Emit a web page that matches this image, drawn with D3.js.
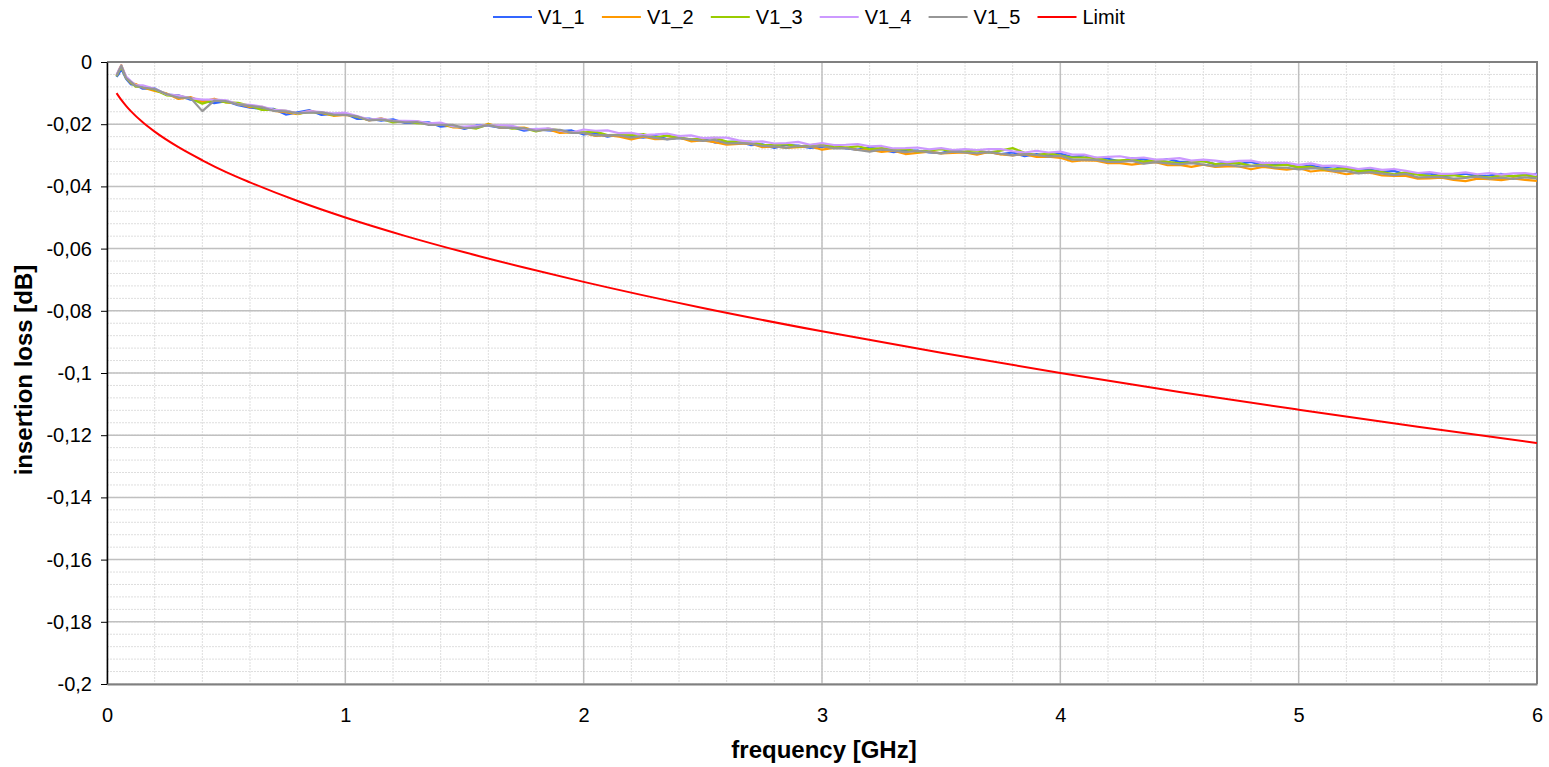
<!DOCTYPE html>
<html>
<head>
<meta charset="utf-8">
<script src="https://cdn.jsdelivr.net/npm/d3@7"></script>
<style>
  body { margin: 0; background: #fff; }
  svg { display: block; font-family: "Liberation Sans", Arial, sans-serif; }
</style>
</head>
<body>
<svg id="chart"></svg>
<script>
// sweep frequencies [GHz]
const freq = [0.04, 0.05, 0.06, 0.07, 0.08, 0.1, 0.12, 0.15, 0.2, 0.25,
  0.3, 0.35, 0.4, 0.45, 0.5, 0.55, 0.6, 0.65, 0.7, 0.75,
  0.8, 0.85, 0.9, 0.95, 1.0, 1.05, 1.1, 1.15, 1.2, 1.25,
  1.3, 1.35, 1.4, 1.45, 1.5, 1.55, 1.6, 1.65, 1.7, 1.75,
  1.8, 1.85, 1.9, 1.95, 2.0, 2.05, 2.1, 2.15, 2.2, 2.25,
  2.3, 2.35, 2.4, 2.45, 2.5, 2.55, 2.6, 2.65, 2.7, 2.75,
  2.8, 2.85, 2.9, 2.95, 3.0, 3.05, 3.1, 3.15, 3.2, 3.25,
  3.3, 3.35, 3.4, 3.45, 3.5, 3.55, 3.6, 3.65, 3.7, 3.75,
  3.8, 3.85, 3.9, 3.95, 4.0, 4.05, 4.1, 4.15, 4.2, 4.25,
  4.3, 4.35, 4.4, 4.45, 4.5, 4.55, 4.6, 4.65, 4.7, 4.75,
  4.8, 4.85, 4.9, 4.95, 5.0, 5.05, 5.1, 5.15, 5.2, 5.25,
  5.3, 5.35, 5.4, 5.45, 5.5, 5.55, 5.6, 5.65, 5.7, 5.75,
  5.8, 5.85, 5.9, 5.95, 6.0];

// insertion loss [dB] per sample
const v1_1 = [-0.0048, -0.0038, -0.0022, -0.0038, -0.0054, -0.0072, -0.0073, -0.0086, -0.0085, -0.0105,
  -0.0107, -0.0121, -0.0124, -0.0132, -0.0126, -0.0139, -0.0147, -0.0150, -0.0151, -0.0169,
  -0.0162, -0.0155, -0.0170, -0.0167, -0.0166, -0.0183, -0.0182, -0.0189, -0.0184, -0.0196,
  -0.0195, -0.0194, -0.0208, -0.0204, -0.0215, -0.0204, -0.0205, -0.0211, -0.0210, -0.0221,
  -0.0215, -0.0220, -0.0222, -0.0220, -0.0233, -0.0229, -0.0240, -0.0233, -0.0240, -0.0243,
  -0.0237, -0.0248, -0.0244, -0.0250, -0.0247, -0.0259, -0.0257, -0.0256, -0.0267, -0.0265,
  -0.0276, -0.0267, -0.0269, -0.0276, -0.0273, -0.0269, -0.0278, -0.0282, -0.0275, -0.0282,
  -0.0290, -0.0285, -0.0285, -0.0291, -0.0293, -0.0283, -0.0290, -0.0295, -0.0290, -0.0296,
  -0.0291, -0.0303, -0.0296, -0.0301, -0.0294, -0.0306, -0.0300, -0.0311, -0.0311, -0.0319,
  -0.0310, -0.0313, -0.0320, -0.0312, -0.0321, -0.0321, -0.0318, -0.0329, -0.0322, -0.0328,
  -0.0321, -0.0333, -0.0330, -0.0330, -0.0339, -0.0332, -0.0340, -0.0335, -0.0343, -0.0350,
  -0.0346, -0.0353, -0.0350, -0.0362, -0.0359, -0.0358, -0.0368, -0.0363, -0.0359, -0.0367,
  -0.0365, -0.0360, -0.0368, -0.0363, -0.0360];

const v1_2 = [-0.0044, -0.0026, -0.0010, -0.0030, -0.0050, -0.0068, -0.0071, -0.0082, -0.0093, -0.0101,
  -0.0119, -0.0113, -0.0128, -0.0118, -0.0130, -0.0133, -0.0145, -0.0144, -0.0157, -0.0161,
  -0.0168, -0.0157, -0.0164, -0.0173, -0.0170, -0.0175, -0.0188, -0.0181, -0.0192, -0.0192,
  -0.0191, -0.0200, -0.0200, -0.0210, -0.0211, -0.0212, -0.0199, -0.0211, -0.0212, -0.0211,
  -0.0221, -0.0216, -0.0228, -0.0226, -0.0228, -0.0238, -0.0235, -0.0240, -0.0249, -0.0240,
  -0.0248, -0.0247, -0.0243, -0.0255, -0.0252, -0.0258, -0.0266, -0.0263, -0.0262, -0.0274,
  -0.0271, -0.0276, -0.0274, -0.0271, -0.0282, -0.0276, -0.0275, -0.0283, -0.0282, -0.0289,
  -0.0285, -0.0296, -0.0292, -0.0288, -0.0294, -0.0292, -0.0291, -0.0298, -0.0289, -0.0297,
  -0.0300, -0.0296, -0.0305, -0.0304, -0.0308, -0.0320, -0.0316, -0.0317, -0.0325, -0.0325,
  -0.0330, -0.0325, -0.0322, -0.0332, -0.0331, -0.0337, -0.0330, -0.0337, -0.0336, -0.0336,
  -0.0345, -0.0337, -0.0342, -0.0346, -0.0341, -0.0352, -0.0348, -0.0353, -0.0361, -0.0356,
  -0.0356, -0.0365, -0.0366, -0.0366, -0.0375, -0.0374, -0.0372, -0.0379, -0.0383, -0.0375,
  -0.0377, -0.0380, -0.0374, -0.0379, -0.0382];

const v1_3 = [-0.0046, -0.0030, -0.0016, -0.0034, -0.0052, -0.0066, -0.0079, -0.0080, -0.0089, -0.0107,
  -0.0109, -0.0117, -0.0134, -0.0122, -0.0130, -0.0131, -0.0141, -0.0154, -0.0153, -0.0157,
  -0.0166, -0.0161, -0.0162, -0.0171, -0.0168, -0.0177, -0.0186, -0.0183, -0.0194, -0.0190,
  -0.0197, -0.0198, -0.0198, -0.0208, -0.0209, -0.0214, -0.0201, -0.0207, -0.0214, -0.0213,
  -0.0223, -0.0214, -0.0220, -0.0228, -0.0226, -0.0224, -0.0235, -0.0234, -0.0235, -0.0232,
  -0.0242, -0.0237, -0.0243, -0.0249, -0.0246, -0.0244, -0.0256, -0.0257, -0.0256, -0.0266,
  -0.0267, -0.0264, -0.0272, -0.0267, -0.0264, -0.0272, -0.0275, -0.0271, -0.0280, -0.0277,
  -0.0281, -0.0280, -0.0288, -0.0284, -0.0280, -0.0288, -0.0287, -0.0284, -0.0291, -0.0285,
  -0.0277, -0.0292, -0.0299, -0.0294, -0.0301, -0.0307, -0.0307, -0.0308, -0.0318, -0.0316,
  -0.0315, -0.0320, -0.0315, -0.0321, -0.0326, -0.0322, -0.0319, -0.0328, -0.0327, -0.0325,
  -0.0334, -0.0330, -0.0333, -0.0331, -0.0338, -0.0337, -0.0345, -0.0344, -0.0342, -0.0351,
  -0.0349, -0.0354, -0.0361, -0.0355, -0.0362, -0.0367, -0.0365, -0.0364, -0.0370, -0.0368,
  -0.0372, -0.0365, -0.0367, -0.0364, -0.0371];

const v1_4 = [-0.0041, -0.0025, -0.0011, -0.0029, -0.0047, -0.0061, -0.0074, -0.0075, -0.0086, -0.0104,
  -0.0108, -0.0116, -0.0121, -0.0121, -0.0123, -0.0136, -0.0138, -0.0143, -0.0154, -0.0156,
  -0.0165, -0.0158, -0.0161, -0.0166, -0.0163, -0.0174, -0.0185, -0.0182, -0.0189, -0.0189,
  -0.0190, -0.0197, -0.0195, -0.0207, -0.0208, -0.0205, -0.0204, -0.0204, -0.0205, -0.0216,
  -0.0216, -0.0213, -0.0221, -0.0227, -0.0217, -0.0221, -0.0220, -0.0229, -0.0228, -0.0235,
  -0.0233, -0.0230, -0.0238, -0.0236, -0.0245, -0.0243, -0.0243, -0.0252, -0.0257, -0.0255,
  -0.0262, -0.0261, -0.0257, -0.0266, -0.0261, -0.0267, -0.0266, -0.0264, -0.0271, -0.0270,
  -0.0278, -0.0277, -0.0275, -0.0281, -0.0277, -0.0283, -0.0280, -0.0283, -0.0280, -0.0280,
  -0.0287, -0.0291, -0.0286, -0.0291, -0.0288, -0.0298, -0.0298, -0.0307, -0.0305, -0.0303,
  -0.0310, -0.0307, -0.0314, -0.0312, -0.0309, -0.0317, -0.0314, -0.0317, -0.0322, -0.0318,
  -0.0317, -0.0325, -0.0324, -0.0324, -0.0331, -0.0326, -0.0334, -0.0333, -0.0337, -0.0344,
  -0.0340, -0.0347, -0.0344, -0.0350, -0.0357, -0.0354, -0.0360, -0.0359, -0.0355, -0.0361,
  -0.0357, -0.0362, -0.0358, -0.0357, -0.0362];

const v1_5 = [-0.0044, -0.0028, -0.0012, -0.0032, -0.0052, -0.0064, -0.0077, -0.0082, -0.0087, -0.0103,
  -0.0115, -0.0115, -0.0158, -0.0124, -0.0126, -0.0137, -0.0141, -0.0146, -0.0157, -0.0159,
  -0.0164, -0.0163, -0.0162, -0.0169, -0.0170, -0.0175, -0.0188, -0.0185, -0.0190, -0.0194,
  -0.0193, -0.0202, -0.0202, -0.0202, -0.0213, -0.0210, -0.0203, -0.0211, -0.0212, -0.0213,
  -0.0221, -0.0218, -0.0218, -0.0228, -0.0228, -0.0236, -0.0235, -0.0236, -0.0243, -0.0238,
  -0.0244, -0.0249, -0.0245, -0.0249, -0.0254, -0.0250, -0.0262, -0.0261, -0.0262, -0.0270,
  -0.0271, -0.0276, -0.0270, -0.0273, -0.0270, -0.0278, -0.0277, -0.0283, -0.0288, -0.0281,
  -0.0285, -0.0290, -0.0286, -0.0290, -0.0294, -0.0288, -0.0291, -0.0294, -0.0289, -0.0295,
  -0.0300, -0.0296, -0.0299, -0.0304, -0.0302, -0.0314, -0.0314, -0.0315, -0.0321, -0.0321,
  -0.0318, -0.0327, -0.0322, -0.0326, -0.0329, -0.0325, -0.0330, -0.0335, -0.0330, -0.0336,
  -0.0335, -0.0333, -0.0340, -0.0340, -0.0345, -0.0342, -0.0342, -0.0351, -0.0351, -0.0358,
  -0.0354, -0.0359, -0.0364, -0.0360, -0.0371, -0.0370, -0.0370, -0.0375, -0.0373, -0.0369,
  -0.0375, -0.0372, -0.0376, -0.0371, -0.0374];

// limit line
const limitFreq = [0.04, 0.06, 0.08, 0.1, 0.15, 0.2, 0.3, 0.4, 0.5, 0.6, 0.8, 1, 1.25, 1.5, 1.75,
  2, 2.5, 3, 3.5, 4, 4.5, 5, 5.5, 6];
const limitLoss = [-0.0100, -0.0122, -0.0141, -0.0158, -0.0194, -0.0224, -0.0274, -0.0316, -0.0354,
  -0.0387, -0.0447, -0.0500, -0.0559, -0.0612, -0.0661, -0.0707, -0.0791, -0.0866, -0.0935,
  -0.1000, -0.1061, -0.1118, -0.1173, -0.1225];

const xTicks = [0, 1, 2, 3, 4, 5, 6];
const yTicks = [0, -0.02, -0.04, -0.06, -0.08, -0.1, -0.12, -0.14, -0.16, -0.18, -0.2];
const seriesNames = ["V1_1", "V1_2", "V1_3", "V1_4", "V1_5", "Limit"];
const seriesColors = ["#3366FF", "#FF9900", "#99CC00", "#CC99FF", "#969696", "#FF0000"];

const width = 1549, height = 767;
const plot = { left: 107, right: 1537, top: 62, bottom: 684 };

const svg = d3.select("#chart")
  .attr("width", width)
  .attr("height", height);

const x = d3.scaleLinear().domain([0, 6]).range([plot.left, plot.right]);
const y = d3.scaleLinear().domain([-0.2, 0]).range([plot.bottom, plot.top]);

// minor grid (0.2 GHz / 0.004 dB)
const xMinor = d3.range(0, 31).map(i => i * 0.2);
const yMinor = d3.range(0, 51).map(i => -0.2 + i * 0.004);

const grid = svg.append("g");
grid.selectAll(".xminor").data(xMinor).enter().append("line")
  .attr("x1", d => x(d)).attr("x2", d => x(d))
  .attr("y1", plot.top).attr("y2", plot.bottom)
  .attr("stroke", "#dedede").attr("stroke-width", 1).attr("stroke-dasharray", "2,1");
grid.selectAll(".yminor").data(yMinor).enter().append("line")
  .attr("x1", plot.left).attr("x2", plot.right)
  .attr("y1", d => y(d)).attr("y2", d => y(d))
  .attr("stroke", "#dedede").attr("stroke-width", 1).attr("stroke-dasharray", "2,1");

// major grid
grid.selectAll(".xmajor").data(xTicks).enter().append("line")
  .attr("x1", d => x(d)).attr("x2", d => x(d))
  .attr("y1", plot.top).attr("y2", plot.bottom)
  .attr("stroke", "#c0c0c0").attr("stroke-width", 1.5);
grid.selectAll(".ymajor").data(yTicks).enter().append("line")
  .attr("x1", plot.left).attr("x2", plot.right)
  .attr("y1", d => y(d)).attr("y2", d => y(d))
  .attr("stroke", "#c0c0c0").attr("stroke-width", 1.5);

// plot border top / right
svg.append("path")
  .attr("d", `M${plot.left},${plot.top}H${plot.right}V${plot.bottom}`)
  .attr("fill", "none").attr("stroke", "#808080").attr("stroke-width", 2);

// series lines
const seriesData = [v1_1, v1_2, v1_3, v1_4, v1_5];
const line = d3.line()
  .x(d => x(d[0]))
  .y(d => y(d[1]));

svg.append("clipPath").attr("id", "clip")
  .append("rect")
  .attr("x", plot.left).attr("y", plot.top - 4)
  .attr("width", plot.right - plot.left).attr("height", plot.bottom - plot.top + 4);

const lines = svg.append("g").attr("clip-path", "url(#clip)");
seriesData.forEach((vals, i) => {
  lines.append("path")
    .datum(freq.map((f, j) => [f, vals[j]]))
    .attr("fill", "none")
    .attr("stroke", seriesColors[i])
    .attr("stroke-width", 2.2)
    .attr("stroke-linejoin", "round")
    .attr("d", line);
});

lines.append("path")
  .datum(limitFreq.map((f, j) => [f, limitLoss[j]]))
  .attr("fill", "none")
  .attr("stroke", seriesColors[5])
  .attr("stroke-width", 2)
  .attr("d", line.curve(d3.curveMonotoneX));

// axes
const yAxis = d3.axisLeft(y)
  .tickValues(yTicks)
  .tickSize(6)
  .tickSizeOuter(0)
  .tickPadding(9)
  .tickFormat(d => String(+d.toFixed(2)).replace(".", ","));

const gy = svg.append("g")
  .attr("transform", `translate(${plot.left},0)`)
  .call(yAxis);
gy.select(".domain").attr("stroke", "#000").attr("stroke-width", 1.5);
gy.selectAll(".tick line").attr("stroke", "#000").attr("stroke-width", 1);
gy.selectAll("text").style("font-size", "20px").attr("fill", "#000");

const xAxis = d3.axisBottom(x)
  .tickValues(xTicks)
  .tickSize(0)
  .tickSizeOuter(0)
  .tickPadding(24)
  .tickFormat(d3.format("d"));

const gx = svg.append("g")
  .attr("transform", `translate(0,${plot.bottom})`)
  .call(xAxis);
gx.select(".domain").attr("stroke", "#808080").attr("stroke-width", 2);
gx.selectAll("text").style("font-size", "20px").attr("fill", "#000");

// axis titles
svg.append("text")
  .attr("x", 824)
  .attr("y", 758)
  .attr("text-anchor", "middle")
  .style("font-size", "24px")
  .style("font-weight", "bold")
  .text("frequency [GHz]");

svg.append("text")
  .attr("transform", "translate(24,370) rotate(-90)")
  .attr("text-anchor", "middle")
  .attr("dy", "0.35em")
  .style("font-size", "24px")
  .style("font-weight", "bold")
  .text("insertion loss [dB]");

// legend
const legend = svg.append("g");
seriesNames.forEach((name, i) => {
  const lx = 493 + i * 108.9;
  legend.append("line")
    .attr("x1", lx).attr("x2", lx + 39)
    .attr("y1", 17).attr("y2", 17)
    .attr("stroke", seriesColors[i]).attr("stroke-width", 2);
  legend.append("text")
    .attr("x", lx + 45)
    .attr("y", 17)
    .attr("dy", "0.35em")
    .style("font-size", "20px")
    .text(name);
});
</script>
</body>
</html>
